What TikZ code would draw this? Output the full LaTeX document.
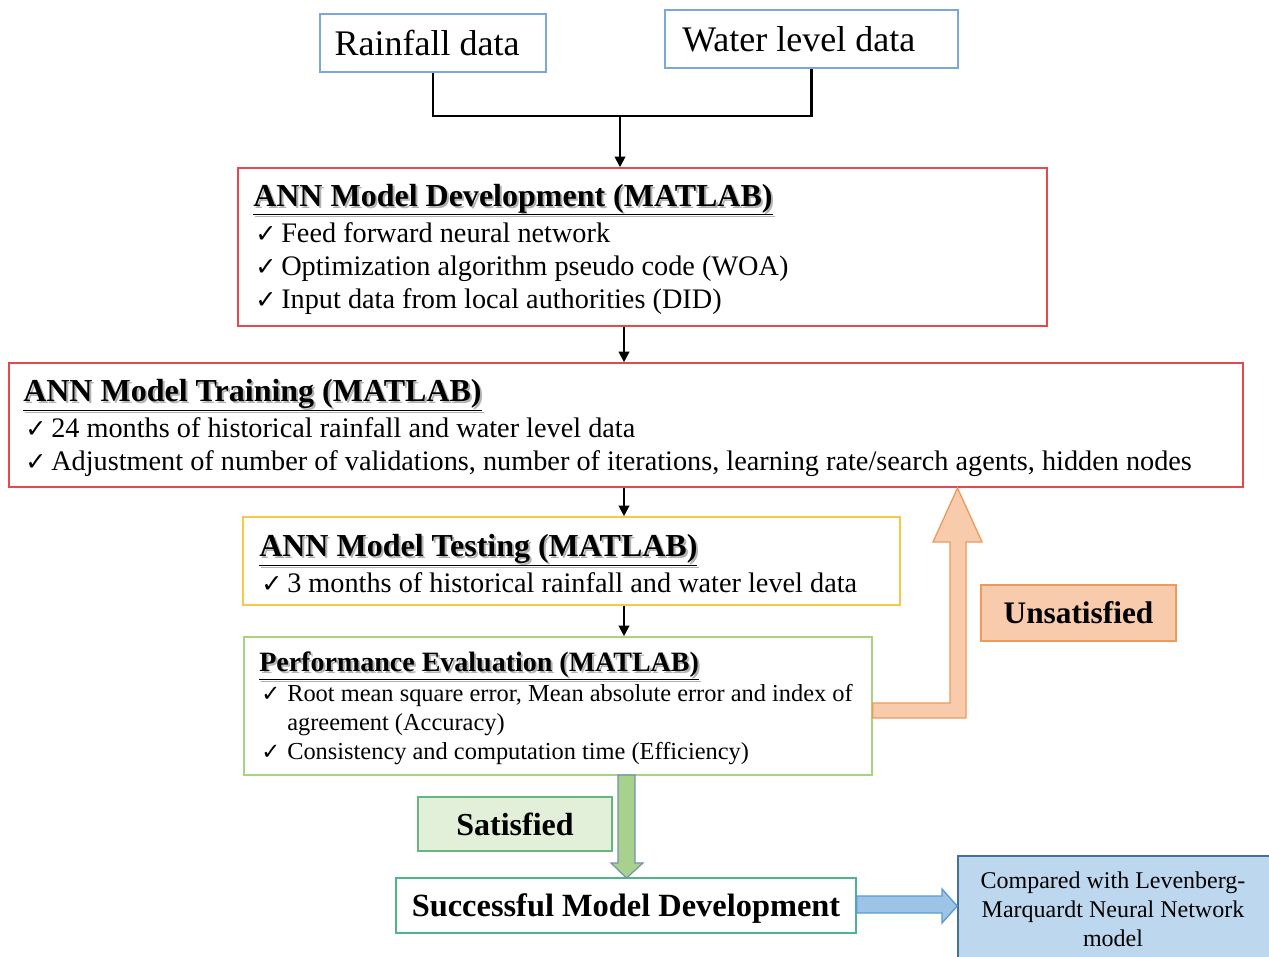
\documentclass[tikz,border=0pt]{standalone}
\usepackage{fontspec}
\setmainfont{Liberation Serif}
\newfontfamily\djv{DejaVu Sans}
\usetikzlibrary{fit,arrows.meta}
\definecolor{cblue}{HTML}{7AA8DC}
\definecolor{cred}{HTML}{E5484D}
\definecolor{cyel}{HTML}{F7C948}
\definecolor{cgrn}{HTML}{A8D47E}
\definecolor{corfill}{HTML}{F8CBAD}
\definecolor{cordraw}{HTML}{EE9A5C}
\definecolor{csatfill}{HTML}{E2F0D9}
\definecolor{csatdraw}{HTML}{66B77F}
\definecolor{csucc}{HTML}{4DB589}
\definecolor{cgarr}{HTML}{A9D18E}
\definecolor{cgarrd}{HTML}{7592AA}
\definecolor{cbarr}{HTML}{9DC3E6}
\definecolor{cbarrd}{HTML}{5B9BD5}
\definecolor{ccompfill}{HTML}{BDD7EE}
\definecolor{ccompdraw}{HTML}{41719C}
\newcommand\chk[1]{\makebox[19.5pt][l]{{\djv\fontsize{#1}{#1}\selectfont ✓}}}
\newcommand\shd[1]{\makebox[0pt][l]{\hspace{1.5pt}\raisebox{-1.5pt}{\color{black!30}#1}}#1}
\tikzset{
  boxst/.style={inner sep=0pt, line width=1.2pt},
  lbl/.style={inner sep=0pt},
  txt/.style={inner sep=0pt, anchor=base west, font=\fontsize{21.2}{25}\selectfont},
  hd/.style={inner sep=0pt, anchor=base west, font=\bfseries\fontsize{24}{28}\selectfont},
  ptxt/.style={inner sep=0pt, anchor=base west, font=\fontsize{18.3}{21}\selectfont},
  arr/.style={-{Triangle[length=8pt,width=8pt]}, line width=1.5pt},
}
\begin{document}
\begin{tikzpicture}[x=0.75pt,y=-0.75pt]
\useasboundingbox (0,0) rectangle (1269,956);
\clip (0,0) rectangle (1269,956);
\fill[white] (0,0) rectangle (1269,956);

% top data boxes
\node[boxst, draw=cblue, fit={(320,14) (546,72)}] (rain) {};
\node[lbl, font=\fontsize{27}{30}\selectfont] (raint) at ([xshift=-4.5pt]rain.center) {Rainfall data};
\node[boxst, draw=cblue, fit={(665,10) (958,68)}] (water) {};
\node[lbl, font=\fontsize{27}{30}\selectfont] (watert) at ([xshift=-9.5pt]water.center) {Water level data};
\coordinate (join) at (620,116);
\coordinate (ax) at (624,0);
\draw[line width=2.2pt] (rain.south) -- (rain.south |- join) -| (water.south);

% development
\node[boxst, draw=cred, fit={(238,168) (1047,326)}] (dev) {};
\draw[arr] (join) -- (join |- dev.north);
\node[hd] (devh) at (253,206) {\shd{\underline{ANN Model Development (MATLAB)}}};
\node[txt] (dev1) at (255,242) {\chk{19}Feed forward neural network};
\node[txt] (dev2) at (255,275) {\chk{19}Optimization algorithm pseudo code (WOA)};
\node[txt] (dev3) at (255,308) {\chk{19}Input data from local authorities (DID)};

% training
\node[boxst, draw=cred, fit={(9,363) (1243,487)}] (train) {};
\draw[arr] (ax |- dev.south) -- (ax |- train.north);
\node[hd] (trainh) at (23,401) {\shd{\underline{ANN Model Training (MATLAB)}}};
\node[txt] (train1) at (25,437) {\chk{19}24 months of historical rainfall and water level data};
\node[txt] (train2) at (25,470) {\chk{19}Adjustment of number of validations, number of iterations, learning rate/search agents, hidden nodes};

% testing
\node[boxst, draw=cyel, fit={(243,517) (900,605)}] (test) {};
\draw[arr] (ax |- train.south) -- (ax |- test.north);
\node[hd] (testh) at (259,556) {\shd{\underline{ANN Model Testing (MATLAB)}}};
\node[txt] (test1) at (261,592) {\chk{19}3 months of historical rainfall and water level data};

% performance
\node[boxst, draw=cgrn, fit={(244,637) (872,775)}] (perf) {};
\draw[arr] (ax |- test.south) -- (ax |- perf.north);
\node[hd, font=\bfseries\fontsize{21}{25}\selectfont] (perfh) at (259,671) {\shd{\underline{Performance Evaluation (MATLAB)}}};
\node[ptxt] (perf1) at (261,701) {\chk{17}Root mean square error, Mean absolute error and index of};
\node[ptxt] (perf2) at (287,730) {agreement (Accuracy)};
\node[ptxt] (perf3) at (261,759) {\chk{17}Consistency and computation time (Efficiency)};

% unsatisfied feedback arrow
\draw[fill=corfill, draw=cordraw, line width=1pt]
  (perf.east |- 0,703) -- (950,703) -- (950,542) -- (933,542) -- (957.5,488)
  -- (982,542) -- (966,542) -- (966,718) -- (perf.east |- 0,718) -- cycle;
\node[boxst, fill=corfill, draw=cordraw, fit={(981,585) (1176,641)}] (unsat) {};
\node[lbl, font=\bfseries\fontsize{23.5}{26}\selectfont] (unsatt) at (unsat.center) {Unsatisfied};

% satisfied
\node[boxst, fill=csatfill, draw=csatdraw, fit={(418,797) (612,851)}] (sat) {};
\node[lbl, font=\bfseries\fontsize{24}{27}\selectfont] (satt) at (sat.center) {Satisfied};
\node[boxst, draw=csucc, fit={(396,878) (856,933)}] (succ) {};
\node[lbl, font=\bfseries\fontsize{24.3}{27}\selectfont] (succt) at ([yshift=-2pt]succ.center) {Successful Model Development};
\draw[fill=cgarr, draw=cgarrd, line width=0.9pt]
  (618,775) -- (618,863) -- (611,863) -- (626.5,878) -- (643,863) -- (635,863) -- (635,775) -- cycle;

% comparison
\node[boxst, fill=ccompfill, draw=ccompdraw, fit={(958,856) (1280,970)}] (comp) {};
\draw[fill=cbarr, draw=cbarrd, line width=1pt]
  (succ.east |- 0,896) -- (942,896) -- (942,889) -- (comp.west |- 0,906) -- (942,923) -- (942,913) -- (succ.east |- 0,913) -- cycle;
\node[inner sep=0pt, anchor=base, font=\fontsize{18}{21}\selectfont] (comp1) at (1113,888) {Compared with Levenberg-};
\node[inner sep=0pt, anchor=base, font=\fontsize{18}{21}\selectfont] (comp2) at (1113,917) {Marquardt Neural Network};
\node[inner sep=0pt, anchor=base, font=\fontsize{18}{21}\selectfont] (comp3) at (1113,946) {model};
\end{tikzpicture}
\end{document}
